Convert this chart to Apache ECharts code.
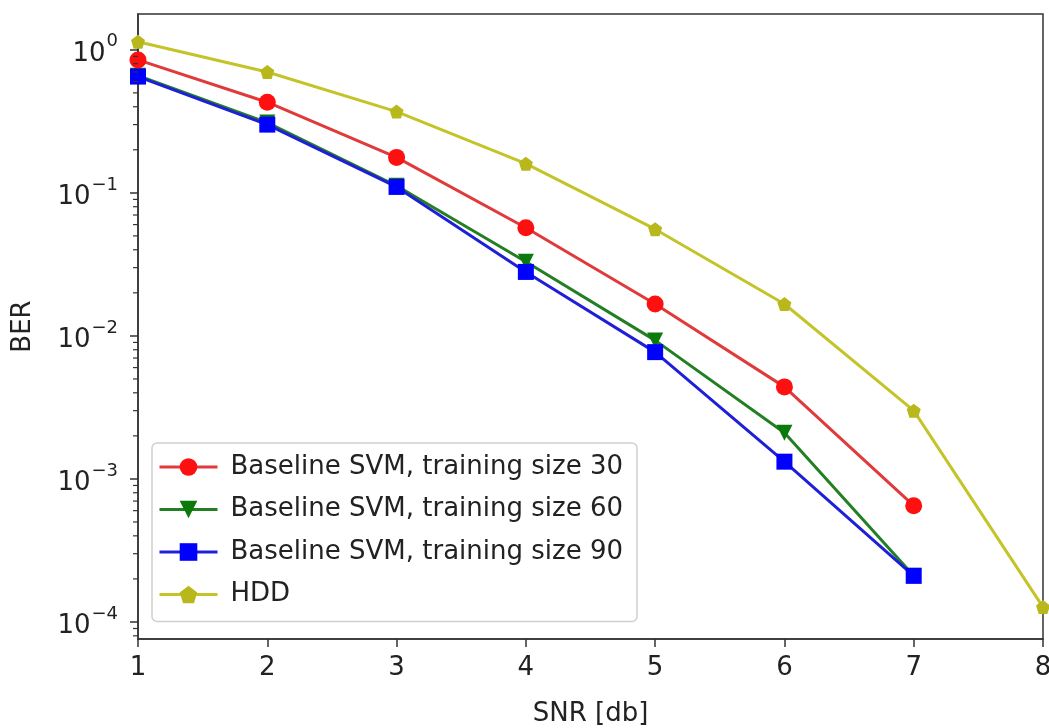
<!DOCTYPE html>
<html>
<head>
<meta charset="utf-8">
<script src="https://cdn.jsdelivr.net/npm/echarts@6/dist/echarts.min.js"></script>
<style>
  html, body { margin: 0; padding: 0; background: #fff; }
  #chart { width: 1049px; height: 728px; }
</style>
</head>
<body>
<div id="chart"></div>
<script>
// ---- data ----
const snr = [1, 2, 3, 4, 5, 6, 7, 8];
const svm30 = [0.85, 0.43, 0.177, 0.057, 0.0167, 0.0044, 0.00065];
const svm60 = [0.66, 0.31, 0.112, 0.033, 0.0093, 0.0021, 0.00021];
const svm90 = [0.65, 0.30, 0.11, 0.028, 0.0077, 0.00132, 0.00021];
const hdd = [1.14, 0.70, 0.37, 0.16, 0.0557, 0.0167, 0.0030, 0.000127];
const seriesNames = [
  'Baseline SVM, training size 30',
  'Baseline SVM, training size 60',
  'Baseline SVM, training size 90',
  'HDD'
];
const xTicks = [1, 2, 3, 4, 5, 6, 7, 8];
const yMajorExponents = [-4, -3, -2, -1, 0];
const minorMantissas = [2, 3, 4, 5, 6, 7, 8, 9];
const minorDecades = [-5, -4, -3, -2, -1, 0];

const yMin = 7.6e-5, yMax = 1.78;

const supMap = {'-': '\u2212'};
function sup(n) { return String(n).split('').map(c => supMap[c] || c).join(''); }

const pair = (arr) => arr.map((v, i) => [snr[i], v]);

const minorTicks = [];
minorDecades.forEach(d => minorMantissas.forEach(m => {
  const v = m * Math.pow(10, d);
  if (v > yMin && v < yMax) minorTicks.push([xTicks[0], v]);
}));

const FONT = 'DejaVu Sans';
const FS = 26;
const chart = echarts.init(document.getElementById('chart'), null, {renderer: 'canvas'});

const pentagon = 'path://M0,-1 L0.951,-0.309 L0.588,0.809 L-0.588,0.809 L-0.951,-0.309 Z';

const option = {
  backgroundColor: '#fff',
  animation: false,
  textStyle: { fontFamily: FONT },
  grid: {
    left: 138, right: 6, top: 14, bottom: 89,
    containLabel: false, outerBoundsMode: 'none',
    show: true, borderColor: '#333', borderWidth: 1.5, backgroundColor: 'transparent'
  },
  legend: {
    data: seriesNames,
    orient: 'vertical',
    left: 152, top: 443,
    itemWidth: 58, itemHeight: 22, itemGap: 12.5,
    padding: [9, 14, 12, 6],
    backgroundColor: 'rgba(255,255,255,0.85)',
    borderColor: '#d0d0d0', borderWidth: 1.5, borderRadius: 5,
    lineStyle: { width: 3 },
    textStyle: { fontFamily: FONT, fontSize: FS, color: '#222', lineHeight: 30, padding: [0, 0, 0, 8] }
  },
  xAxis: {
    type: 'value', min: 1, max: 8, interval: 1,
    name: 'SNR [db]', nameLocation: 'middle', nameGap: 62,
    nameTextStyle: { fontFamily: FONT, fontSize: FS, color: '#222' },
    axisLine: { show: true, lineStyle: { color: '#333', width: 1.5 } },
    axisTick: { show: true, length: 8, lineStyle: { color: '#333', width: 1.5 } },
    axisLabel: { fontFamily: FONT, fontSize: FS, color: '#222', margin: 16 },
    splitLine: { show: false }
  },
  yAxis: {
    type: 'log', logBase: 10, min: yMin, max: yMax, splitNumber: 5,
    name: 'BER', nameLocation: 'middle', nameGap: 102, nameRotate: 90,
    nameTextStyle: { fontFamily: FONT, fontSize: FS, color: '#222' },
    axisLine: { show: true, lineStyle: { color: '#333', width: 1.5 } },
    axisTick: { show: true, length: 8, lineStyle: { color: '#333', width: 1.5 } },
    axisLabel: {
      fontFamily: FONT, fontSize: FS, color: '#222', margin: 20,
      showMinLabel: false, showMaxLabel: false,
      formatter: function (v) {
        const e = Math.log10(v);
        const r = Math.round(e);
        if (Math.abs(e - r) > 1e-6 || yMajorExponents.indexOf(r) < 0) return '';
        return '{b|10}{s|' + sup(r) + '}';
      },
      rich: {
        b: { fontFamily: FONT, fontSize: FS, color: '#222', verticalAlign: 'bottom', lineHeight: 34 },
        s: { fontFamily: FONT, fontSize: 18, color: '#222', verticalAlign: 'top', lineHeight: 34, padding: [0, 0, 12, 1] }
      }
    },
    splitLine: { show: false }
  },
  series: [
    {
      name: seriesNames[0], type: 'line', data: pair(svm30),
      symbol: 'circle', symbolSize: 17,
      itemStyle: { color: '#ff1010' },
      lineStyle: { color: '#e03a3a', width: 3 }, z: 5
    },
    {
      name: seriesNames[1], type: 'line', data: pair(svm60),
      symbol: 'triangle', symbolRotate: 180, symbolSize: 16,
      itemStyle: { color: '#0a7a0a' },
      lineStyle: { color: '#237f23', width: 3 }, z: 4
    },
    {
      name: seriesNames[2], type: 'line', data: pair(svm90),
      symbol: 'rect', symbolSize: 16,
      itemStyle: { color: '#0000ff' },
      lineStyle: { color: '#1f1fd8', width: 3 }, z: 6
    },
    {
      name: seriesNames[3], type: 'line', data: pair(hdd),
      symbol: pentagon, symbolSize: 14,
      itemStyle: { color: '#b8b81c' },
      lineStyle: { color: '#c4c42a', width: 3 }, z: 3
    },
    {
      type: 'custom', silent: true, data: minorTicks, clip: false, z: 10,
      renderItem: function (params, api) {
        const p = api.coord([api.value(0), api.value(1)]);
        return {
          type: 'line',
          shape: { x1: p[0] - 5, y1: p[1], x2: p[0], y2: p[1] },
          style: { stroke: '#333', lineWidth: 1.2 }
        };
      }
    }
  ]
};
chart.setOption(option);
</script>
</body>
</html>
